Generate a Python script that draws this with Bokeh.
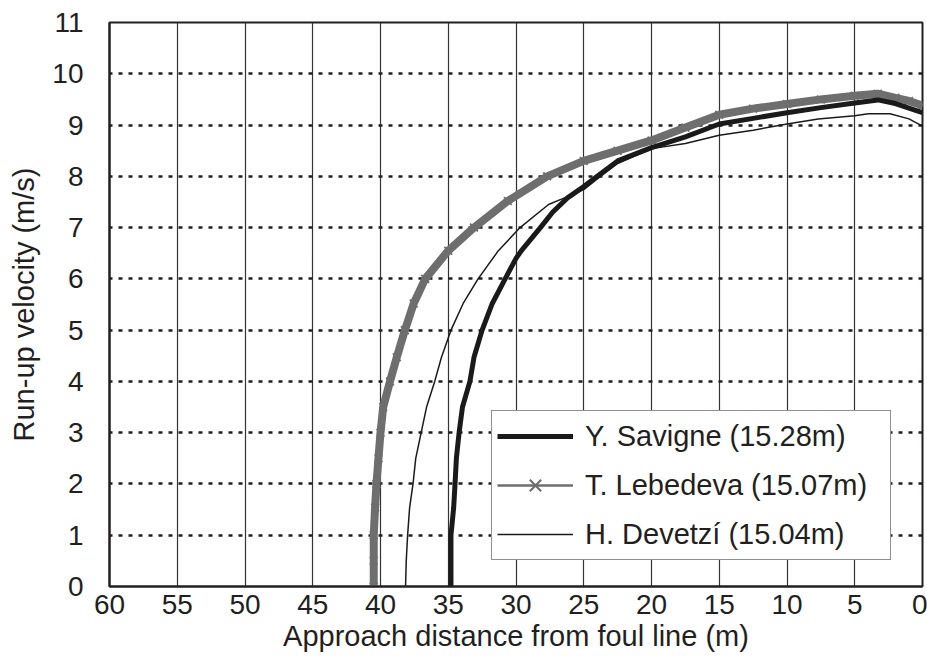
from bokeh.plotting import figure
from bokeh.models import Range1d, FixedTicker, Legend, LegendItem
from bokeh.embed import file_html
from bokeh.resources import INLINE

# ---- data ----
savigne_dist = [34.8, 34.8, 34.8, 34.6, 34.5, 34.4, 34.2, 33.95, 33.4, 33.1, 32.5, 31.75,
                30.8, 30.0, 29.6, 28.2, 27.3, 26.2, 25.0, 24.0, 22.5, 20.0, 17.5, 15.0,
                12.5, 10.0, 7.5, 5.0, 3.3, 2.0, 1.0, 0.0]
savigne_vel = [0.0, 0.5, 1.0, 1.54, 2.0, 2.5, 3.0, 3.5, 4.0, 4.47, 5.0, 5.52,
               6.0, 6.4, 6.55, 7.0, 7.3, 7.58, 7.8, 8.0, 8.3, 8.56, 8.77, 9.02,
               9.13, 9.24, 9.34, 9.43, 9.49, 9.42, 9.33, 9.24]

lebedeva_dist = [40.5, 40.5, 40.5, 40.4, 40.3, 40.15, 40.0, 39.8, 39.3, 38.8, 38.2, 37.55,
                 36.7, 35.0, 33.1, 30.6, 27.7, 25.0, 22.5, 20.0, 17.5, 15.0, 12.5, 10.0,
                 7.5, 5.0, 3.3, 2.0, 1.0, 0.0]
lebedeva_vel = [0.0, 0.5, 1.0, 1.54, 2.0, 2.5, 3.0, 3.5, 4.0, 4.47, 5.0, 5.52,
                6.0, 6.55, 7.0, 7.52, 8.0, 8.3, 8.5, 8.7, 8.95, 9.2, 9.32, 9.41,
                9.5, 9.57, 9.61, 9.53, 9.47, 9.38]

devetzi_dist = [38.15, 38.1, 38.0, 37.85, 37.6, 37.4, 37.0, 36.6, 36.0, 35.5, 34.8, 33.9,
                32.8, 31.3, 29.7, 27.6, 26.6, 25.0, 24.0, 22.5, 20.0, 17.5, 15.0, 12.5,
                10.0, 7.7, 5.0, 4.0, 2.4, 1.0, 0.0]
devetzi_vel = [0.0, 0.5, 1.0, 1.54, 2.0, 2.5, 3.0, 3.5, 4.0, 4.47, 5.0, 5.52,
               6.0, 6.55, 7.0, 7.45, 7.56, 7.74, 7.95, 8.25, 8.54, 8.64, 8.8, 8.9,
               9.02, 9.12, 9.18, 9.22, 9.22, 9.12, 8.98]

labels = ["Y. Savigne (15.28m)", "T. Lebedeva (15.07m)", "H. Devetzí (15.04m)"]
x_ticks = list(range(0, 61, 5))
y_ticks = list(range(0, 12))

FONT = "Liberation Sans"
INK = "#231f20"
GRAY = "#6e6e6e"

p = figure(width=927, height=663, output_backend="svg", toolbar_location=None,
           x_range=Range1d(60, 0), y_range=Range1d(0, 11),
           min_border_left=109, min_border_right=5, min_border_top=22,
           min_border_bottom=77)
# off-screen range, used only so the legend can show its own Lebedeva sample glyph
p.extra_y_ranges = {"legend_only": Range1d(-1000, -999)}

p.background_fill_color = "white"
p.border_fill_color = "white"
p.outline_line_color = INK
p.outline_line_width = 2

# axes
for ax in (p.xaxis[0], p.yaxis[0]):
    ax.axis_line_color = INK
    ax.axis_line_width = 2
    ax.major_tick_line_color = None
    ax.minor_tick_line_color = None
    ax.major_tick_out = 0
    ax.major_tick_in = 0
    ax.major_label_text_font = FONT
    ax.major_label_text_font_size = "28px"
    ax.major_label_text_color = INK
    ax.axis_label_text_font = FONT
    ax.axis_label_text_font_size = "29px"
    ax.axis_label_text_font_style = "normal"
    ax.axis_label_text_color = INK

p.xaxis.ticker = FixedTicker(ticks=x_ticks)
p.yaxis.ticker = FixedTicker(ticks=y_ticks)
p.xaxis.axis_label = "Approach distance from foul line (m)"
p.yaxis.axis_label = "Run-up velocity (m/s)"
p.xaxis.major_label_standoff = 8
p.xaxis.axis_label_standoff = 3
p.yaxis.major_label_standoff = 26
p.yaxis.axis_label_standoff = 9

# grids
p.xgrid.grid_line_color = "#333333"
p.xgrid.grid_line_width = 1.2
p.ygrid.grid_line_color = INK
p.ygrid.grid_line_width = 2.6
p.ygrid.grid_line_dash = "4 6"

# series
p.line(lebedeva_dist, lebedeva_vel, line_color=GRAY, line_width=8)
p.scatter(lebedeva_dist, lebedeva_vel, marker="x", size=11,
          line_color=GRAY, line_width=1.8)
sav_line = p.line(savigne_dist, savigne_vel, line_color="#1a1a1a", line_width=5)
dev_line = p.line(devetzi_dist, devetzi_vel, line_color="#1a1a1a", line_width=1.5)

# legend sample glyphs for Lebedeva (drawn off-screen, only shown in the legend)
leg_line = p.line(lebedeva_dist, lebedeva_vel, line_color=GRAY, line_width=2.5,
                  y_range_name="legend_only")
leg_x = p.scatter(lebedeva_dist, lebedeva_vel, marker="x", size=32, line_color=GRAY,
                  line_width=2.2, y_range_name="legend_only")

legend = Legend(items=[
    LegendItem(label=labels[0], renderers=[sav_line]),
    LegendItem(label=labels[1], renderers=[leg_line, leg_x]),
    LegendItem(label=labels[2], renderers=[dev_line]),
], location=(382, 26))
legend.label_text_font = FONT
legend.label_text_font_size = "29px"
legend.label_text_color = INK
legend.label_height = 36
legend.label_width = 300
legend.glyph_height = 40
legend.glyph_width = 76
legend.label_standoff = 12
legend.spacing = 9
legend.padding = 5
legend.margin = 0
legend.border_line_color = INK
legend.border_line_width = 1.3
legend.background_fill_color = "white"
legend.background_fill_alpha = 1.0
p.add_layout(legend)

open("out.html", "w").write(file_html(p, INLINE))
